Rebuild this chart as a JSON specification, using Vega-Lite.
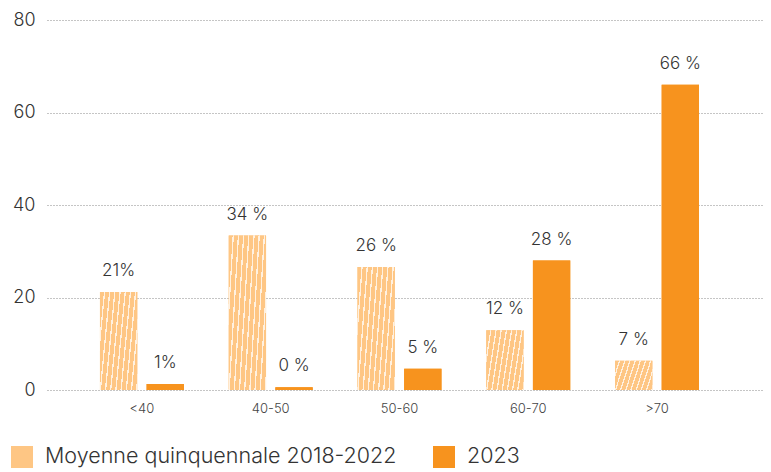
{
  "$schema": "https://vega.github.io/schema/vega-lite/v6.json",
  "width": 717,
  "height": 370,
  "autosize": {"type": "none"},
  "padding": {"left": 47, "top": 20, "right": 7, "bottom": 82},
  "background": "white",
  "config": {
    "font": "Inter",
    "view": {"stroke": null},
    "axis": {"labelFontWeight": 300},
    "legend": {"labelFontWeight": 300}
  },
  "data": {
    "values": [
      {"cat": "<40", "series": "Moyenne quinquennale 2018-2022", "value": 21.2, "label": "21%"},
      {"cat": "<40", "series": "2023", "value": 1.3, "label": "1%"},
      {"cat": "40-50", "series": "Moyenne quinquennale 2018-2022", "value": 33.4, "label": "34 %"},
      {"cat": "40-50", "series": "2023", "value": 0.6, "label": "0 %"},
      {"cat": "50-60", "series": "Moyenne quinquennale 2018-2022", "value": 26.6, "label": "26 %"},
      {"cat": "50-60", "series": "2023", "value": 4.6, "label": "5 %"},
      {"cat": "60-70", "series": "Moyenne quinquennale 2018-2022", "value": 12.9, "label": "12 %"},
      {"cat": "60-70", "series": "2023", "value": 28.0, "label": "28 %"},
      {"cat": ">70", "series": "Moyenne quinquennale 2018-2022", "value": 6.3, "label": "7 %"},
      {"cat": ">70", "series": "2023", "value": 66.0, "label": "66 %"}
    ]
  },
  "encoding": {
    "x": {
      "field": "cat",
      "type": "nominal",
      "sort": ["<40", "40-50", "50-60", "60-70", ">70"],
      "scale": {"paddingInner": 0.348, "paddingOuter": 0.458, "align": 0.449},
      "axis": {
        "title": null,
        "domain": false,
        "ticks": false,
        "labelAngle": 0,
        "labelFontSize": 13,
        "labelColor": "#444444",
        "labelPadding": 12
      }
    },
    "xOffset": {
      "field": "series",
      "type": "nominal",
      "sort": ["Moyenne quinquennale 2018-2022", "2023"],
      "scale": {"paddingInner": 0.2, "paddingOuter": 0}
    },
    "y": {
      "field": "value",
      "type": "quantitative",
      "scale": {"domain": [0, 80], "nice": false},
      "axis": {
        "title": null,
        "values": [0, 20, 40, 60, 80],
        "domain": false,
        "ticks": false,
        "labelFontSize": 18,
        "labelColor": "#333333",
        "labelPadding": 12,
        "gridColor": "#8a8a8a",
        "gridDash": [1, 2],
        "gridWidth": 1
      }
    }
  },
  "layer": [
    {
      "mark": {"type": "bar"},
      "encoding": {
        "color": {
          "field": "series",
          "type": "nominal",
          "scale": {
            "domain": ["Moyenne quinquennale 2018-2022", "2023"],
            "range": ["#FEC684", "#F7931E"]
          },
          "legend": {
            "title": null,
            "orient": "none",
            "direction": "horizontal",
            "legendX": -36,
            "legendY": 426,
            "symbolType": "square",
            "symbolSize": 484,
            "symbolStrokeWidth": 0,
            "symbolOpacity": 1,
            "labelFontSize": 21.5,
            "labelColor": "#333333",
            "labelOffset": 12,
            "columnPadding": 36,
            "labelLimit": 400
          }
        }
      }
    },
    {
      "mark": {"type": "bar"},
      "encoding": {
        "fill": {
          "condition": {"test": "datum.series === '2023'", "value": "#F7931E"},
          "value": {
            "gradient": "linear",
            "x1": 0, "y1": 0, "x2": 1.176, "y2": 0.294,
            "stops": [
              {"offset": 0, "color": "#FEC684"}, {"offset": 0.0833, "color": "#FEC684"}, {"offset": 0.0833, "color": "#FFF1E0"}, {"offset": 0.1111, "color": "#FFF1E0"},
              {"offset": 0.1111, "color": "#FEC684"}, {"offset": 0.1944, "color": "#FEC684"}, {"offset": 0.1944, "color": "#FFF1E0"}, {"offset": 0.2222, "color": "#FFF1E0"},
              {"offset": 0.2222, "color": "#FEC684"}, {"offset": 0.3056, "color": "#FEC684"}, {"offset": 0.3056, "color": "#FFF1E0"}, {"offset": 0.3333, "color": "#FFF1E0"},
              {"offset": 0.3333, "color": "#FEC684"}, {"offset": 0.4167, "color": "#FEC684"}, {"offset": 0.4167, "color": "#FFF1E0"}, {"offset": 0.4444, "color": "#FFF1E0"},
              {"offset": 0.4444, "color": "#FEC684"}, {"offset": 0.5278, "color": "#FEC684"}, {"offset": 0.5278, "color": "#FFF1E0"}, {"offset": 0.5556, "color": "#FFF1E0"},
              {"offset": 0.5556, "color": "#FEC684"}, {"offset": 0.6389, "color": "#FEC684"}, {"offset": 0.6389, "color": "#FFF1E0"}, {"offset": 0.6667, "color": "#FFF1E0"},
              {"offset": 0.6667, "color": "#FEC684"}, {"offset": 0.75, "color": "#FEC684"}, {"offset": 0.75, "color": "#FFF1E0"}, {"offset": 0.7778, "color": "#FFF1E0"},
              {"offset": 0.7778, "color": "#FEC684"}, {"offset": 0.8611, "color": "#FEC684"}, {"offset": 0.8611, "color": "#FFF1E0"}, {"offset": 0.8889, "color": "#FFF1E0"},
              {"offset": 0.8889, "color": "#FEC684"}, {"offset": 0.9722, "color": "#FEC684"}, {"offset": 0.9722, "color": "#FFF1E0"}, {"offset": 1, "color": "#FFF1E0"}
            ]
          }
        }
      }
    },
    {
      "mark": {"type": "text", "baseline": "alphabetic", "dy": -16, "fontSize": 17, "fontWeight": 300, "color": "#333333"},
      "encoding": {
        "text": {"field": "label"}
      }
    }
  ]
}
